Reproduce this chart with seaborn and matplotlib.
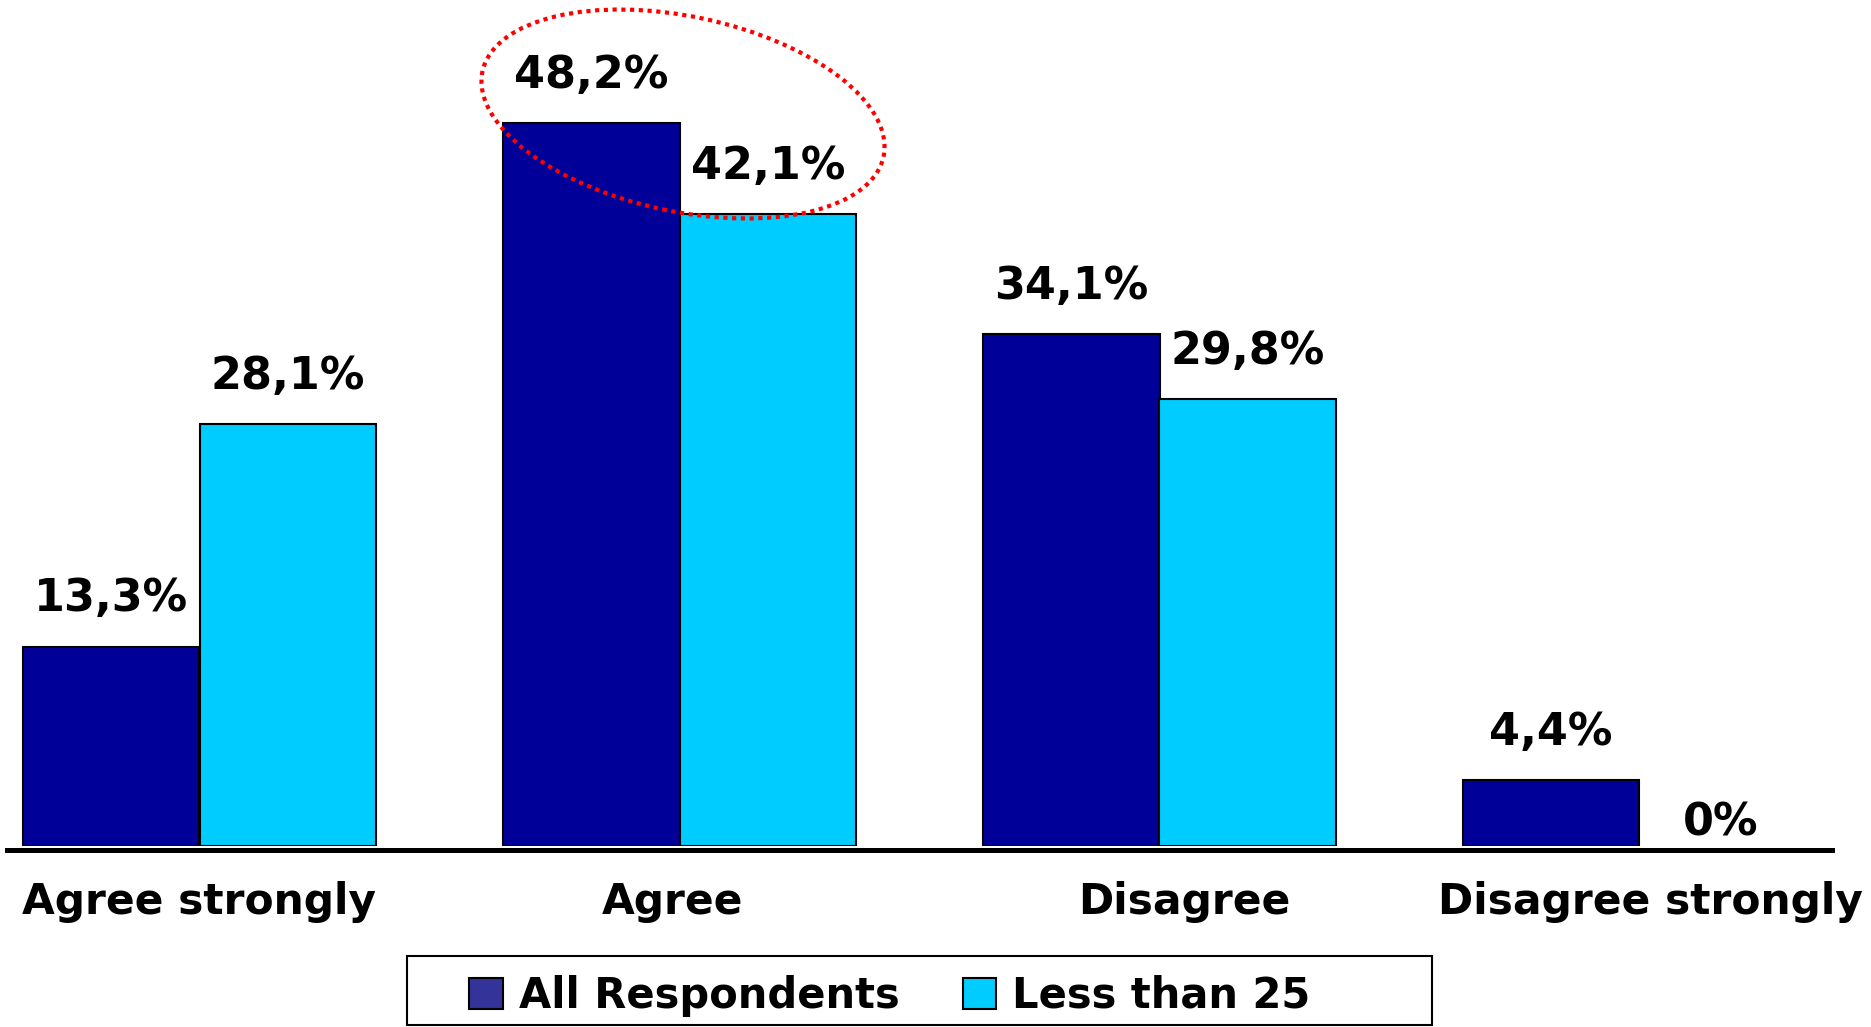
import matplotlib
matplotlib.use("Agg")
import matplotlib.pyplot as plt
import matplotlib.transforms as mtransforms
from matplotlib.patches import Ellipse, Patch, Rectangle
import pandas as pd
import seaborn as sns

categories = ["Agree strongly", "Agree", "Disagree", "Disagree strongly"]
groups = ["All Respondents", "Less than 25"]
all_respondents = [13.3, 48.2, 34.1, 4.4]
less_than_25 = [28.1, 42.1, 29.8, 0.0]
value_labels = {
    "All Respondents": ["13,3%", "48,2%", "34,1%", "4,4%"],
    "Less than 25": ["28,1%", "42,1%", "29,8%", "0%"],
}

bar_colors = ["#000099", "#00CCFF"]
legend_colors = ["#333399", "#00CCFF"]

df = pd.DataFrame({
    "category": categories * 2,
    "group": [groups[0]] * 4 + [groups[1]] * 4,
    "value": all_respondents + less_than_25,
})

sns.set_theme(style="white")
plt.rcParams["font.family"] = ["DejaVu Sans"]
plt.rcParams["text.color"] = "black"
plt.rcParams["xtick.color"] = "black"

fig = plt.figure(figsize=(18.71, 10.27), dpi=100)
ax = fig.add_axes([0, 181 / 1027, 1, 846 / 1027])

sns.barplot(
    data=df, x="category", y="value", hue="group",
    palette=bar_colors, saturation=1, width=0.736,
    edgecolor="black", linewidth=1.5, legend=False, ax=ax,
)

for cont, g in zip(ax.containers, groups):
    anns = ax.bar_label(cont, labels=value_labels[g], padding=19,
                        fontsize=32, fontweight="bold", color="black")
    for bar, ann in zip(cont, anns):
        if bar.get_height() == 0:
            bar.set_linewidth(0)
            ann.xyann = (-5, 1)

ax.set_xlim(-199.5 / 480, (1871 - 199.5) / 480)
ax.set_ylim(0, 846 / 15)
ax.set_xlabel("")
ax.set_ylabel("")
ax.set_yticks([])
for s in ["top", "right", "left"]:
    ax.spines[s].set_visible(False)
ax.spines["bottom"].set_linewidth(3.6)
ax.spines["bottom"].set_color("black")
ax.spines["bottom"].set_position(("outward", 3))
ax.spines["bottom"].set_bounds((7 - 199.5) / 480, (1832 - 199.5) / 480)
ax.tick_params(axis="x", length=0, pad=22, labelsize=30.5, labelcolor="black")
for lab in ax.get_xticklabels():
    lab.set_fontweight("bold")

# nudge category labels like in the original
shifts = [0, -7, 25, 11]
for lab, dx in zip(ax.get_xticklabels(), shifts):
    lab.set_transform(lab.get_transform() + mtransforms.ScaledTranslation(dx / 100, 0, fig.dpi_scale_trans))

# red dotted highlight around the "Agree" pair
ell = Ellipse((6.83, (1027 - 114) / 100), 4.10, 1.95, angle=-12,
              transform=fig.dpi_scale_trans, fill=False, edgecolor="red",
              linewidth=3.0, linestyle=(0, (1, 1.1)), clip_on=False)
fig.patches.append(ell)

# legend: frame drawn separately, entries sit a bit left of its centre
box = Rectangle((4.07, 0.02), 10.25, 0.69, transform=fig.dpi_scale_trans,
                fill=False, edgecolor="black", linewidth=1.5)
fig.patches.append(box)

handles = [Patch(facecolor=c, edgecolor="black", linewidth=1.5) for c in legend_colors]
leg = fig.legend(
    handles, groups, loc="center", bbox_to_anchor=(890 / 1871, 1 - 996 / 1027),
    ncol=2, frameon=False,
    prop={"weight": "bold", "size": 30},
    handlelength=0.8, handleheight=0.75, handletextpad=0.4, columnspacing=1.5,
    borderpad=0.0,
)

fig.savefig("out.png", dpi=100, facecolor="white")
